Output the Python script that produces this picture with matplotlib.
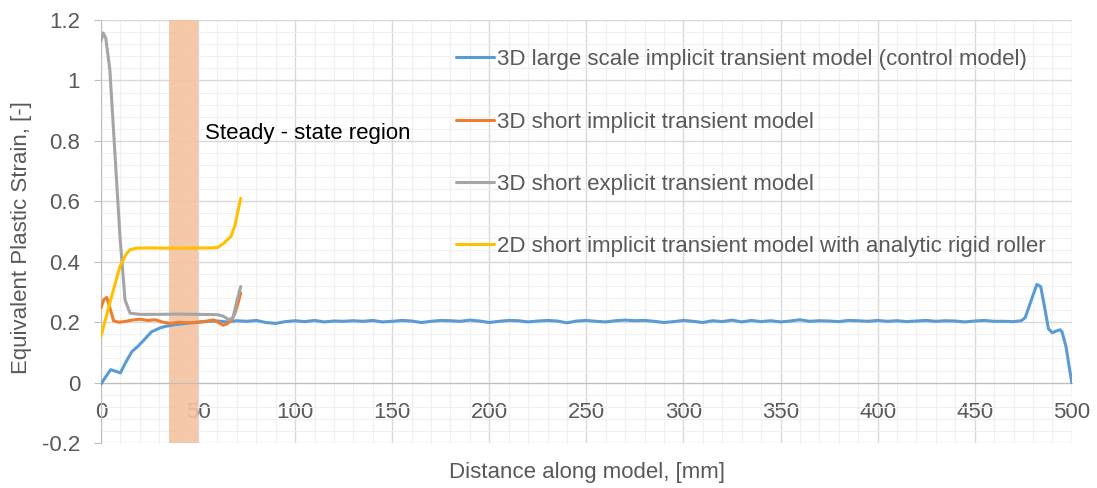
import numpy as np
import matplotlib
matplotlib.use('Agg')
from matplotlib import pyplot as plt
from matplotlib.ticker import MultipleLocator

plt.rcParams['font.family'] = ['Liberation Sans', 'DejaVu Sans']

# 3D large scale implicit transient model (control model)
x_large = [0, 2, 5, 8, 10, 13, 16, 19, 22, 26, 30, 33, 38, 45, 50,
           55, 60, 65, 70, 75, 80, 85, 90, 95, 100, 105, 110, 115, 120, 125,
           130, 135, 140, 145, 150, 155, 160, 165, 170, 175, 180, 185, 190, 195,
           200, 205, 210, 215, 220, 225, 230, 235, 240, 245, 250, 255, 260, 265,
           270, 275, 280, 285, 290, 295, 300, 305, 310, 315, 320, 325, 330, 335,
           340, 345, 350, 355, 360, 365, 370, 375, 380, 385, 390, 395, 400, 405,
           410, 415, 420, 425, 430, 435, 440, 445, 450, 455, 460, 465, 470,
           474, 476, 479, 482, 484, 486, 488, 490, 492, 494, 495, 497, 499, 500]
y_large = [-0.005, 0.015, 0.043, 0.037, 0.032, 0.07, 0.103, 0.12, 0.14, 0.168, 0.18, 0.186, 0.192, 0.197, 0.2,
           0.203, 0.204, 0.201, 0.205, 0.203, 0.206, 0.199, 0.196, 0.202, 0.205, 0.202, 0.206, 0.201, 0.204, 0.203,
           0.205, 0.203, 0.206, 0.201, 0.203, 0.206, 0.204, 0.199, 0.203, 0.206, 0.205, 0.203, 0.207, 0.204,
           0.199, 0.203, 0.206, 0.205, 0.201, 0.204, 0.206, 0.204, 0.198, 0.204, 0.206, 0.203, 0.201, 0.205,
           0.207, 0.205, 0.206, 0.203, 0.199, 0.202, 0.206, 0.203, 0.199, 0.205, 0.202, 0.207, 0.201, 0.206,
           0.202, 0.205, 0.201, 0.204, 0.208, 0.203, 0.205, 0.204, 0.202, 0.206, 0.205, 0.203, 0.206, 0.203,
           0.205, 0.202, 0.204, 0.206, 0.203, 0.205, 0.204, 0.201, 0.204, 0.206, 0.203, 0.203, 0.202,
           0.205, 0.215, 0.27, 0.325, 0.318, 0.25, 0.178, 0.165, 0.171, 0.175, 0.168, 0.12, 0.04, 0.0]

# 3D short implicit transient model
x_short_imp = [0, 1.5, 3, 4.5, 6.5, 9, 12, 16, 20, 24, 28, 32, 36, 40, 45, 50,
               55, 58, 61, 63, 65, 67.5, 69, 70.5, 72]
y_short_imp = [0.247, 0.275, 0.282, 0.25, 0.205, 0.2, 0.202, 0.207, 0.21, 0.206, 0.208, 0.2,
               0.196, 0.2, 0.198, 0.2, 0.204, 0.208, 0.197, 0.19, 0.195, 0.208, 0.23, 0.26, 0.297]

# 3D short explicit transient model
x_short_exp = [0, 1.2, 2.5, 4.6, 7.2, 9.8, 12.4, 15, 20, 30, 40, 50, 60, 63, 66, 68, 70, 72]
y_short_exp = [1.13, 1.157, 1.14, 1.035, 0.76, 0.484, 0.274, 0.23, 0.226, 0.226, 0.227, 0.226,
               0.225, 0.22, 0.208, 0.215, 0.27, 0.318]

# 2D short implicit transient model with analytic rigid roller
x_2d = [0, 4.6, 9.8, 13, 15, 18.3, 25, 35, 45, 55, 60, 63, 67, 69, 72]
y_2d = [0.153, 0.264, 0.385, 0.425, 0.44, 0.445, 0.446, 0.445, 0.445, 0.446, 0.447, 0.46,
        0.484, 0.52, 0.61]

band = [35, 50]

labels = ['3D large scale implicit transient model (control model)',
          '3D short implicit transient model',
          '3D short explicit transient model',
          '2D short implicit transient model with analytic rigid roller']
colors = ['#5B9BD5', '#ED7D31', '#A5A5A5', '#FFC000']
txt = '#595959'

fig = plt.figure(figsize=(10.97, 4.88), dpi=100)
ax = fig.add_axes([0.092, 0.092, 0.885, 0.867])

ax.axvspan(band[0], band[1], color='#F4C2A1', alpha=0.9, lw=0, zorder=1)

series = [(x_large, y_large), (x_short_imp, y_short_imp),
          (x_short_exp, y_short_exp), (x_2d, y_2d)]
for (xs, ys), c, lab in zip(series, colors, labels):
    ax.plot(xs, ys, color=c, lw=2.2, label=lab, zorder=3,
            solid_joinstyle='round', solid_capstyle='round')

ax.set_xlim(0, 500)
ax.set_ylim(-0.2, 1.2)
ax.xaxis.set_major_locator(MultipleLocator(50))
ax.xaxis.set_minor_locator(MultipleLocator(10))
ax.yaxis.set_major_locator(MultipleLocator(0.2))
ax.yaxis.set_minor_locator(MultipleLocator(0.04))
ax.grid(which='major', color='#D9D9D9', lw=1.0, zorder=0)
ax.grid(which='minor', color='#F0F0F0', lw=0.8, zorder=0)
ax.set_axisbelow(True)

ax.set_yticks(np.arange(-0.2, 1.21, 0.2))
ax.set_yticklabels(['-0.2', '0', '0.2', '0.4', '0.6', '0.8', '1', '1.2'])

for s in ['top', 'right']:
    ax.spines[s].set_visible(False)
ax.spines['bottom'].set_position(('data', 0))
ax.spines['bottom'].set_color('#BFBFBF')
ax.spines['left'].set_color('#BFBFBF')
ax.tick_params(axis='x', which='both', length=0, pad=14, labelsize=16, colors=txt)
ax.tick_params(axis='y', which='major', length=5, pad=10, labelsize=16, colors=txt)
ax.tick_params(axis='y', which='major', color='#BFBFBF')
ax.tick_params(axis='y', which='minor', length=0)

fig.text(0.535, 0.031, 'Distance along model, [mm]', ha='center', va='center',
         fontsize=16, color=txt)
fig.text(0.02, 0.514, 'Equivalent Plastic Strain, [-]', ha='center', va='center',
         rotation=90, fontsize=16, color=txt)

ax.text(53.6, 0.826, 'Steady - state region', fontsize=16, color='black',
        ha='left', va='center', zorder=4)

leg = ax.legend(loc='upper left', bbox_to_anchor=(0.357, 0.952), frameon=False,
                fontsize=16, handlelength=1.7, handletextpad=0.13,
                labelspacing=1.86, borderaxespad=0)
for t in leg.get_texts():
    t.set_color(txt)

fig.savefig('out.png', dpi=100)
